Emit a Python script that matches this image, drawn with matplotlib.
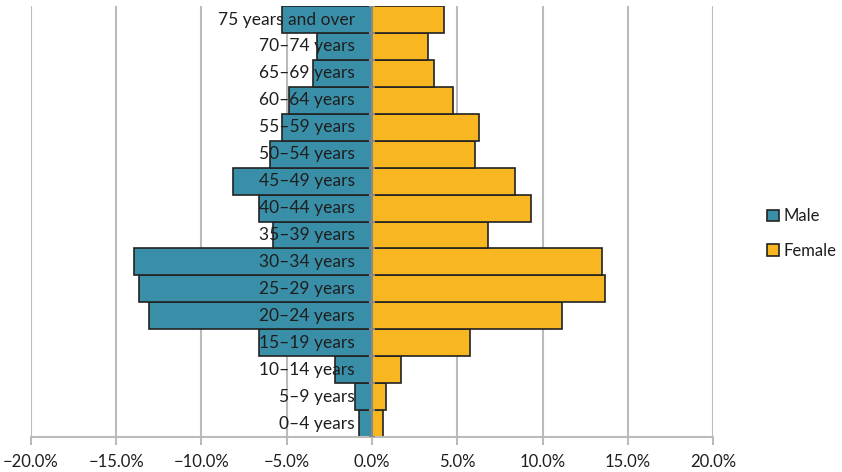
import matplotlib
matplotlib.use("Agg")
import matplotlib.pyplot as plt
import numpy as np
from matplotlib.ticker import FixedLocator, FuncFormatter

plt.rcParams['font.family'] = ['Lato', 'DejaVu Sans']

age_groups = ["0–4 years", "5–9 years", "10–14 years", "15–19 years", "20–24 years",
              "25–29 years", "30–34 years", "35–39 years", "40–44 years", "45–49 years",
              "50–54 years", "55–59 years", "60–64 years", "65–69 years", "70–74 years",
              "75 years and over"]
male = [-0.74, -0.98, -2.15, -6.65, -13.08, -13.65, -13.96, -5.79, -6.6, -8.13,
        -5.98, -5.3, -4.85, -3.44, -3.24, -5.3]
female = [0.65, 0.84, 1.72, 5.73, 11.12, 13.66, 13.5, 6.8, 9.31, 8.4,
          6.02, 6.29, 4.73, 3.62, 3.27, 4.25]
x_ticks = [-20, -15, -10, -5, 0, 5, 10, 15, 20]

male_color = "#3A8FA8"
female_color = "#F8B620"
grid_color = "#BBBBBB"
text_color = "#1E1E1E"

fig = plt.figure(figsize=(8.42, 4.72), dpi=100)
ax = fig.add_axes([0.0368, 0.0742, 0.81, 0.913])

y = np.arange(len(age_groups))
ax.barh(y, male, height=1.0, color=male_color, edgecolor="#222222", linewidth=1.2,
        label="Male", zorder=2)
ax.barh(y, female, height=1.0, color=female_color, edgecolor="#222222", linewidth=1.2,
        label="Female", zorder=2)

ax.set_xlim(-20, 20)
ax.set_ylim(-0.5, len(age_groups) - 0.5)

# vertical gridlines
ax.xaxis.set_major_locator(FixedLocator(x_ticks))
ax.xaxis.set_major_formatter(FuncFormatter(lambda v, p: f"{v:.1f}%".replace("-", "\u2212")))
for v in x_ticks:
    if v != 0:
        ax.axvline(v, color=grid_color, linewidth=1.5, zorder=0)

# centre axis with category boundary ticks
ax.axvline(0, color="#888888", linewidth=1.5, zorder=3)
for b in np.arange(-0.5, len(age_groups), 1.0):
    ax.plot([-0.18, 0.18], [b, b], color="#888888", linewidth=1.5, zorder=3,
            solid_capstyle="butt")

for s in ["left", "right", "top"]:
    ax.spines[s].set_visible(False)
ax.spines["bottom"].set_color(grid_color)
ax.spines["bottom"].set_linewidth(1.5)
ax.tick_params(axis="x", colors=grid_color, length=6, width=1.5, labelsize=12,
               labelcolor=text_color, pad=6)
ax.set_yticks([])

for yi, lab in zip(y, age_groups):
    ax.text(-1.0, yi, lab, ha="right", va="center", fontsize=12.5, color=text_color,
            zorder=4)

leg = fig.legend(loc="center left", bbox_to_anchor=(0.893, 0.505), frameon=False,
                 fontsize=12, handlelength=0.7, handleheight=0.7, handletextpad=0.3,
                 labelspacing=1.1)
for t in leg.get_texts():
    t.set_color(text_color)

fig.savefig("out.png", dpi=100)
